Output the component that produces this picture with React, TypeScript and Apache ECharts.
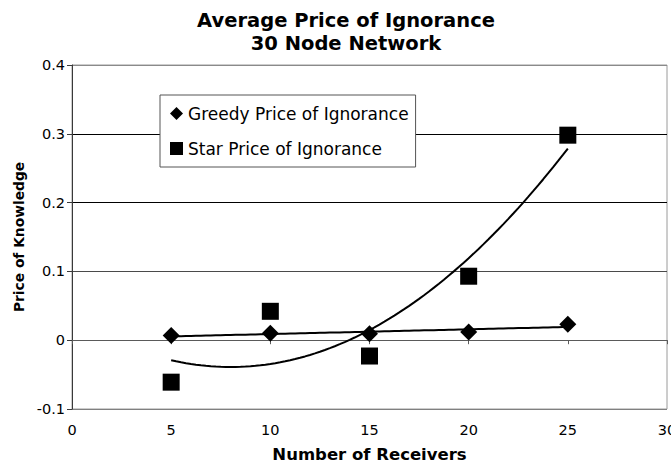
import React, { useEffect, useRef } from "react";
import * as echarts from "echarts";

const receivers = [5, 10, 15, 20, 25];
const greedyValues = [0.007, 0.0102, 0.0095, 0.012, 0.0233];
const starValues = [-0.061, 0.042, -0.023, 0.093, 0.298];
const xTicks = [0, 5, 10, 15, 20, 25, 30];
const yTicks = [-0.1, 0, 0.1, 0.2, 0.3, 0.4];
const titleLines = ["Average Price of Ignorance", "30 Node Network"];
const seriesNames = ["Greedy Price of Ignorance", "Star Price of Ignorance"];

// least-squares polynomial fit (Excel-style trendline)
function polyFit(xs: number[], ys: number[], degree: number): number[] {
  const n = degree + 1;
  const A: number[][] = [];
  for (let i = 0; i < n; i++) {
    A.push([]);
    for (let j = 0; j < n; j++) {
      let s = 0;
      xs.forEach((x) => (s += Math.pow(x, i + j)));
      A[i].push(s);
    }
    let r = 0;
    xs.forEach((x, k) => (r += Math.pow(x, i) * ys[k]));
    A[i].push(r);
  }
  for (let c = 0; c < n; c++) {
    let p = c;
    for (let r = c + 1; r < n; r++) if (Math.abs(A[r][c]) > Math.abs(A[p][c])) p = r;
    [A[c], A[p]] = [A[p], A[c]];
    for (let r = 0; r < n; r++) {
      if (r === c) continue;
      const f = A[r][c] / A[c][c];
      for (let k = c; k <= n; k++) A[r][k] -= f * A[c][k];
    }
  }
  return A.map((row, i) => row[n] / row[i]);
}

function trend(xs: number[], ys: number[], degree: number): number[][] {
  const coef = polyFit(xs, ys, degree);
  const lo = Math.min(...xs);
  const hi = Math.max(...xs);
  const out: number[][] = [];
  const steps = 80;
  for (let i = 0; i <= steps; i++) {
    const x = lo + ((hi - lo) * i) / steps;
    let y = 0;
    coef.forEach((c, k) => (y += c * Math.pow(x, k)));
    out.push([x, y]);
  }
  return out;
}

export default function App() {
  const ref = useRef<HTMLDivElement>(null);
  useEffect(() => {
    if (!ref.current) return;
    const chart = echarts.init(ref.current, undefined, { renderer: "svg" });
    const font = "'DejaVu Sans', Verdana, sans-serif";
    chart.setOption({
      animation: false,
      backgroundColor: "#ffffff",
      textStyle: { fontFamily: font, color: "#000" },
      title: {
        text: titleLines.join("\n"),
        left: 346,
        top: 9,
        padding: 0,
        textAlign: "center",
        textStyle: {
          fontFamily: font,
          fontWeight: "bold",
          fontSize: 19.5,
          lineHeight: 23,
          color: "#000",
        },
      },
      grid: {
        left: 72,
        right: 4,
        top: 65,
        bottom: 55,
        containLabel: false,
        outerBoundsMode: "none",
        show: true,
        borderColor: "#9a9a9a",
        borderWidth: 1,
        backgroundColor: "#fff",
      },
      legend: {
        orient: "vertical",
        left: 160,
        top: 95,
        padding: [10, 7, 10, 10],
        itemGap: 18,
        itemWidth: 13,
        itemHeight: 13,
        backgroundColor: "#fff",
        borderColor: "#555",
        borderWidth: 1,
        textStyle: { fontFamily: font, fontSize: 17, color: "#000" },
        data: [
          { name: seriesNames[0], icon: "diamond" },
          { name: seriesNames[1], icon: "rect" },
        ],
      },
      xAxis: {
        type: "value",
        min: xTicks[0],
        max: xTicks[xTicks.length - 1],
        interval: xTicks[1] - xTicks[0],
        name: "Number of Receivers",
        nameLocation: "middle",
        nameGap: 37,
        nameTextStyle: { fontFamily: font, fontWeight: "bold", fontSize: 16.5, color: "#000" },
        axisLine: { show: true, lineStyle: { color: "#5a5a5a", width: 1 } },
        axisTick: { show: true, length: 4, lineStyle: { color: "#5a5a5a" } },
        axisLabel: { fontFamily: font, fontSize: 14.5, color: "#000", margin: 13 },
        splitLine: { show: false },
      },
      yAxis: {
        type: "value",
        min: yTicks[0],
        max: yTicks[yTicks.length - 1],
        interval: 0.1,
        name: "Price of Knowledge",
        nameLocation: "middle",
        nameGap: 46,
        nameTextStyle: { fontFamily: font, fontWeight: "bold", fontSize: 13.8, color: "#000" },
        axisLine: { show: true, onZero: false, lineStyle: { color: "#3a3a3a", width: 1 } },
        axisTick: { show: true, length: 5, lineStyle: { color: "#3a3a3a" } },
        axisLabel: { fontFamily: font, fontSize: 14.5, color: "#000", margin: 7 },
        splitLine: {
          show: true,
          lineStyle: {
            color: ["#808080", "#808080", "#4a4a4a", "#000000", "#000000", "#8a8a8a"],
            width: 1,
          },
        },
      },
      series: [
        {
          name: seriesNames[0] + " trend",
          type: "line",
          data: trend(receivers, greedyValues, 1),
          showSymbol: false,
          symbol: "none",
          lineStyle: { color: "#000", width: 2 },
          silent: true,
          z: 3,
        },
        {
          name: seriesNames[1] + " trend",
          type: "line",
          data: trend(receivers, starValues, 2),
          showSymbol: false,
          symbol: "none",
          lineStyle: { color: "#000", width: 2 },
          silent: true,
          z: 3,
        },
        {
          name: seriesNames[0],
          type: "scatter",
          symbol: "diamond",
          symbolSize: 17,
          itemStyle: { color: "#000", opacity: 1 },
          data: receivers.map((x, i) => [x, greedyValues[i]]),
          z: 4,
        },
        {
          name: seriesNames[1],
          type: "scatter",
          symbol: "rect",
          symbolSize: 17,
          itemStyle: { color: "#000", opacity: 1 },
          data: receivers.map((x, i) => [x, starValues[i]]),
          z: 4,
        },
      ],
    });
    return () => chart.dispose();
  }, []);
  return (
    <div
      ref={ref}
      style={{ position: "fixed", left: 0, top: 0, width: 671, height: 464 }}
    />
  );
}
